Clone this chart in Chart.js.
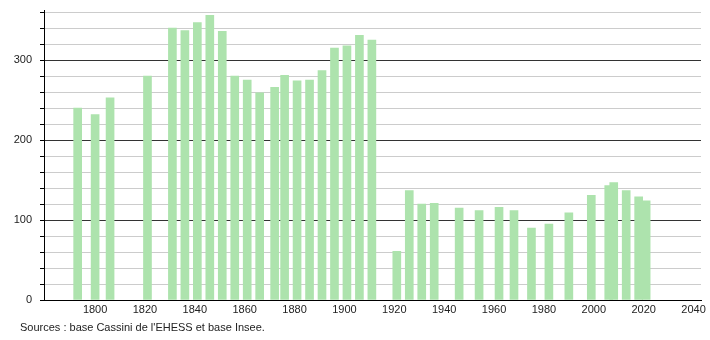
<!DOCTYPE html>
<html>
<head>
<meta charset="utf-8">
<script src="https://cdn.jsdelivr.net/npm/chart.js@4/dist/chart.umd.min.js"></script>
<style>
  body { margin: 0; background: #fff; }
  #wrap { position: relative; width: 710px; height: 340px; overflow: hidden; }
  #popChart { position: absolute; left: 0; top: -4px; }
  #src { position: absolute; left: 20px; top: 321px; font: 11px "Liberation Sans", Arial, sans-serif; color: #222; }
</style>
</head>
<body>
<div id="wrap">
  <canvas id="popChart" width="710" height="344"></canvas>
  <div id="src">Sources : base Cassini de l'EHESS et base Insee.</div>
</div>
<script>
// annees de recensement et population
const years = [1793, 1800, 1806, 1821, 1831, 1836, 1841, 1846, 1851, 1856,
  1861, 1866, 1872, 1876, 1881, 1886, 1891, 1896, 1901, 1906, 1911,
  1921, 1926, 1931, 1936, 1946, 1954, 1962, 1968, 1975, 1982, 1990,
  1999, 2006, 2008, 2013, 2018, 2021];
const population = [240, 232, 253, 280, 340, 337, 347, 356, 336, 280,
  275, 259, 266, 281, 274, 275, 287, 315, 318, 331, 325,
  61, 137, 120, 121, 115, 112, 116, 112, 90, 95, 109,
  131, 143, 147, 137, 129, 124];
const xTicks = [1800, 1820, 1840, 1860, 1880, 1900, 1920, 1940, 1960, 1980, 2000, 2020, 2040];
const yTicks = [0, 20, 40, 60, 80, 100, 120, 140, 160, 180, 200, 220, 240, 260, 280, 300, 320, 340, 360];

const points = years.map((y, i) => ({ x: y, y: population[i] }));

const ctx = document.getElementById('popChart').getContext('2d');
new Chart(ctx, {
  type: 'bar',
  data: {
    datasets: [{
      data: points,
      backgroundColor: '#ade3ad',
      borderWidth: 0,
      barThickness: 8
    }]
  },
  options: {
    responsive: false,
    animation: false,
    layout: { padding: { top: 6, right: 9, left: 0, bottom: 0 } },
    plugins: { legend: { display: false }, tooltip: { enabled: false } },
    scales: {
      x: {
        type: 'linear',
        offset: false,
        min: 1779.5,
        max: 2043,
        afterBuildTicks: s => { s.ticks = xTicks.map(v => ({ value: v })); },
        afterFit: s => { s.height = 40; },
        grid: { display: false, drawTicks: false },
        border: { color: '#000', width: 1 },
        ticks: {
          autoSkip: false,
          color: '#222',
          font: { family: 'Liberation Sans', size: 11 },
          padding: 3,
          maxRotation: 0,
          callback: v => String(v)
        }
      },
      y: {
        min: 0,
        max: 362,
        afterBuildTicks: s => { s.ticks = yTicks.map(v => ({ value: v })); },
        afterFit: s => { s.width = 44; },
        grid: {
          color: c => c.tick.value % 100 === 0 ? '#333' : '#ccc',
          tickColor: '#000',
          tickLength: 4,
          drawTicks: true
        },
        border: { color: '#000', width: 1 },
        ticks: {
          autoSkip: false,
          color: '#222',
          font: { family: 'Liberation Sans', size: 11 },
          padding: 8,
          callback: v => v % 100 === 0 ? String(v) : ''
        }
      }
    }
  }
});
</script>
</body>
</html>
